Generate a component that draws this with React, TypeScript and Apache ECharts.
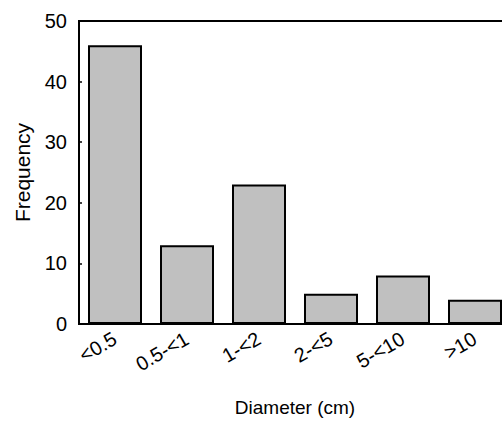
import React, { useEffect, useRef } from "react";
import * as echarts from "echarts";

const categories = ["<0.5", "0.5-<1", "1-<2", "2-<5", "5-<10", ">10"];
const frequencies = [46, 13, 23, 5, 8, 4];
const yTicks = [0, 10, 20, 30, 40, 50];

export default function App() {
  const ref = useRef<HTMLDivElement>(null);
  useEffect(() => {
    if (!ref.current) return;
    const chart = echarts.init(ref.current, null, { renderer: "svg" });
    chart.setOption({
      animation: false,
      textStyle: { fontFamily: "Liberation Sans, Arial, sans-serif" },
      grid: {
        left: 79,
        top: 21,
        right: -9,
        bottom: 98,
        show: true,
        borderColor: "#000",
        borderWidth: 2,
        backgroundColor: "transparent",
        containLabel: false,
        outerBoundsMode: "none",
      },
      xAxis: {
        type: "category",
        data: categories,
        name: "Diameter (cm)",
        nameLocation: "middle",
        nameGap: 74,
        nameTextStyle: { fontSize: 19, color: "#000", verticalAlign: "top" },
        axisLine: { lineStyle: { color: "#000", width: 2 } },
        axisTick: { show: false },
        axisLabel: { rotate: 30, fontSize: 20, color: "#000", margin: 13 },
      },
      yAxis: {
        type: "value",
        min: yTicks[0],
        max: yTicks[yTicks.length - 1],
        interval: 10,
        name: "Frequency",
        nameLocation: "middle",
        nameGap: 46,
        nameTextStyle: { fontSize: 21, color: "#000" },
        axisLine: { show: true, lineStyle: { color: "#000", width: 2 } },
        axisTick: { show: true, inside: true, length: 3, lineStyle: { color: "#000", width: 1.5 } },
        axisLabel: { fontSize: 20, color: "#000", margin: 12 },
        splitLine: { show: false },
      },
      series: [
        {
          type: "bar",
          data: frequencies,
          barCategoryGap: "25%",
          itemStyle: { color: "#c0c0c0", borderColor: "#000", borderWidth: 2 },
        },
      ],
    });
    return () => chart.dispose();
  }, []);
  return <div ref={ref} style={{ width: 502, height: 422, position: "absolute", left: 0, top: 0 }} />;
}
